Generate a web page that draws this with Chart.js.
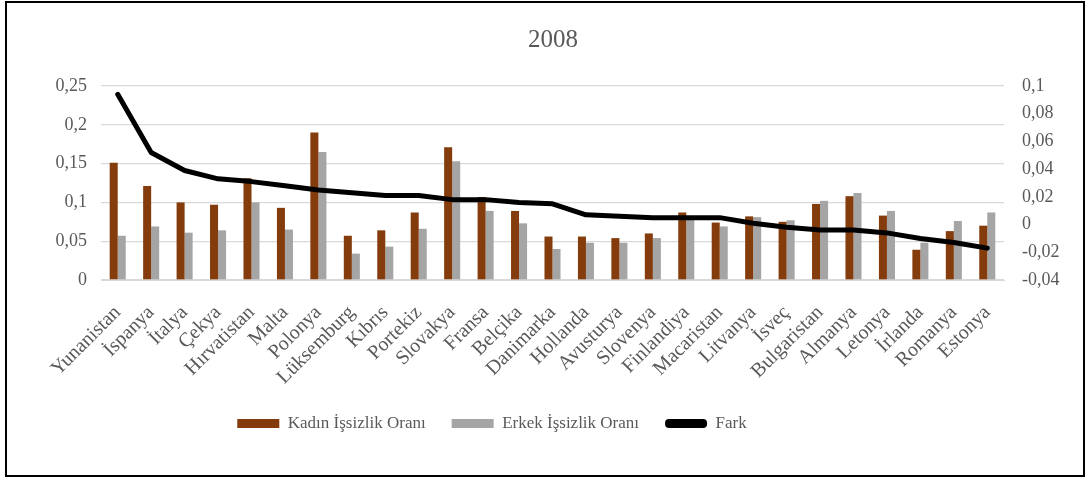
<!DOCTYPE html>
<html>
<head>
<meta charset="utf-8">
<script src="https://cdn.jsdelivr.net/npm/chart.js@4"></script>
<style>
  html, body { margin: 0; padding: 0; background: #fff; }
  #wrap { position: relative; width: 1088px; height: 480px; }
  #frame { position: absolute; left: 5px; top: 1px; width: 1076px; height: 472px; border: 2px solid #000; pointer-events: none; }
</style>
</head>
<body>
<div id="wrap">
  <canvas id="chart" width="1088" height="480"></canvas>
  <div id="frame"></div>
</div>
<script>
// Data
const countries = ["Yunanistan","İspanya","İtalya","Çekya","Hırvatistan","Malta","Polonya","Lüksemburg","Kıbrıs","Portekiz","Slovakya","Fransa","Belçika","Danimarka","Hollanda","Avusturya","Slovenya","Finlandiya","Macaristan","Litvanya","İsveç","Bulgaristan","Almanya","Letonya","İrlanda","Romanya","Estonya"];
const kadin = [0.151,0.121,0.100,0.097,0.131,0.093,0.190,0.057,0.064,0.087,0.171,0.107,0.089,0.056,0.056,0.054,0.060,0.087,0.074,0.082,0.075,0.098,0.108,0.083,0.039,0.063,0.070];
const erkek = [0.057,0.069,0.061,0.064,0.100,0.065,0.165,0.034,0.043,0.066,0.153,0.089,0.073,0.040,0.048,0.048,0.054,0.082,0.069,0.081,0.077,0.102,0.112,0.089,0.048,0.076,0.087];
const fark = [0.094,0.052,0.039,0.033,0.031,0.028,0.025,0.023,0.021,0.021,0.018,0.018,0.016,0.015,0.007,0.006,0.005,0.005,0.005,0.001,-0.002,-0.004,-0.004,-0.006,-0.010,-0.013,-0.017];
const leftTicks = ["0","0,05","0,1","0,15","0,2","0,25"];
const rightTicks = ["-0,04","-0,02","0","0,02","0,04","0,06","0,08","0,1"];

const serif = "'Liberation Serif', 'Times New Roman', serif";
Chart.defaults.font.family = serif;
Chart.defaults.color = "#595959";

// legend sits a bit left of centre in the original, title a bit right
const nudge = {
  id: 'nudge',
  afterLayout(chart) {
    chart.legend.right = chart.legend.left + 984;
    chart.titleBlock.left += 18;
  }
};

const ctx = document.getElementById('chart').getContext('2d');

new Chart(ctx, {
  type: 'bar',
  data: {
    labels: countries,
    datasets: [
      {
        label: "Kadın İşsizlik Oranı",
        data: kadin,
        backgroundColor: "#843C0C",
        yAxisID: 'y',
        order: 1
      },
      {
        label: "Erkek İşsizlik Oranı",
        data: erkek,
        backgroundColor: "#A5A5A5",
        yAxisID: 'y',
        order: 1
      },
      {
        type: 'line',
        label: "Fark",
        data: fark,
        borderColor: "#000",
        backgroundColor: "#000",
        borderWidth: 5,
        borderCapStyle: 'round',
        borderJoinStyle: 'round',
        pointRadius: 0,
        tension: 0,
        yAxisID: 'y2',
        order: 0
      }
    ]
  },
  plugins: [nudge],
  options: {
    responsive: false,
    animation: false,
    categoryPercentage: 0.48,
    barPercentage: 1,
    layout: { padding: { bottom: 38 } },
    plugins: {
      title: {
        display: true,
        text: "2008",
        font: { family: serif, size: 25, weight: 'normal' },
        color: "#595959",
        padding: { top: 25, bottom: 31 }
      },
      legend: {
        position: 'bottom',
        labels: {
          boxWidth: 42,
          boxHeight: 9,
          padding: 26,
          font: { family: serif, size: 17 },
          color: "#595959",
          sort: (a, b) => a.datasetIndex - b.datasetIndex,
          generateLabels: function(chart) {
            const items = Chart.defaults.plugins.legend.labels.generateLabels(chart);
            items.forEach(it => {
              it.lineWidth = 0;
              if (it.datasetIndex === 2) it.borderRadius = 4;
            });
            return items;
          }
        }
      },
      tooltip: { enabled: false }
    },
    scales: {
      x: {
        grid: { display: false, drawTicks: false },
        border: { color: "#d9d9d9" },
        ticks: {
          autoSkip: false,
          minRotation: 45,
          maxRotation: 45,
          padding: 21,
          font: { family: serif, size: 20 }
        },
        afterFit: s => { s.height = 109; }
      },
      y: {
        position: 'left',
        min: 0,
        max: 0.25,
        grid: { color: "#d9d9d9", lineWidth: 1.3, drawTicks: false },
        border: { display: false },
        ticks: {
          stepSize: 0.05,
          padding: 14,
          font: { family: serif, size: 18 },
          callback: (v, i) => leftTicks[i]
        },
        afterFit: s => { s.width = 101; }
      },
      y2: {
        position: 'right',
        min: -0.04,
        max: 0.1,
        grid: { display: false, drawTicks: false },
        border: { display: false },
        ticks: {
          stepSize: 0.02,
          padding: 18,
          font: { family: serif, size: 18 },
          callback: (v, i) => rightTicks[i]
        },
        afterFit: s => { s.width = 84; }
      }
    }
  }
});
</script>
</body>
</html>
